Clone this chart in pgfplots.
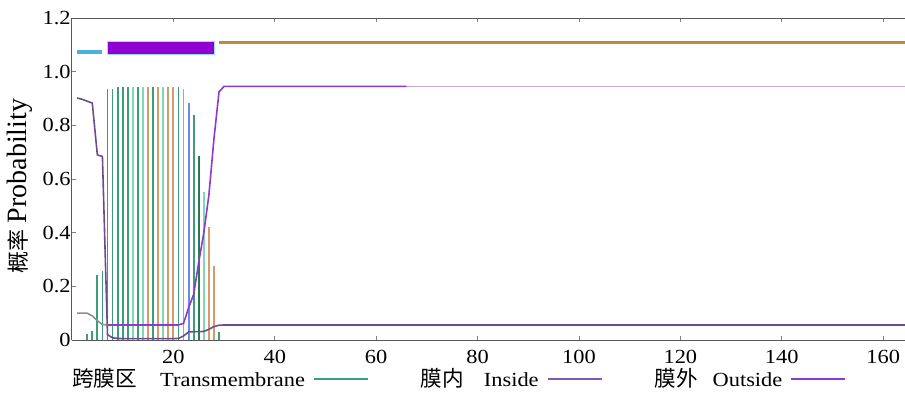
\documentclass[border=0pt]{standalone}
\usepackage{fontspec}
\setmainfont{Liberation Serif}[FakeStretch=1.12]
\newfontfamily\plainserif{Liberation Serif}
\newfontfamily\cjk{Noto Sans CJK SC}[Scale=1.08]
\newfontfamily\cjkplain{Noto Sans CJK SC}
\usepackage{pgfplots}
\pgfplotsset{compat=1.18}
\definecolor{tmgreen}{HTML}{3A9E78}
\definecolor{tmdark}{HTML}{2A7A50}
\definecolor{tmmint}{HTML}{80D8B0}
\definecolor{tmorange}{HTML}{D89A6A}
\definecolor{tmblue}{HTML}{6A8AE8}
\definecolor{incol}{HTML}{6E4A8E}
\definecolor{inleg}{HTML}{7A5CB8}
\definecolor{outcol}{HTML}{8E3AD0}
\definecolor{outlight}{HTML}{C4ACD8}
\definecolor{outgray}{HTML}{8A9090}
\definecolor{barblue}{HTML}{4AB0E0}
\definecolor{barpurple}{HTML}{9000D0}
\definecolor{barorange}{HTML}{C8883A}
\definecolor{bargreen}{HTML}{5AAA70}
\begin{document}
\begin{tikzpicture}
\begin{axis}[
  at={(0,0)}, anchor=south west,
  scale only axis, width=416.5pt, height=161pt,
  xmin=0, xmax=164.3, ymin=0, ymax=1.2,
  axis x line*=box, axis y line*=left,
  axis line style={black!65, line width=0.5pt},
  xtick={20,40,60,80,100,120,140,160},
  xticklabels={20,40,60,80,100,120,140,160},
  ytick={0,0.2,0.4,0.6,0.8,1.0,1.2},
  yticklabels={0,0.2,0.4,0.6,0.8,1.0,1.2},
  /pgf/number format/assume math mode=true,
  tick align=inside, major tick length=2pt,
  tick style={black!50, line width=0.4pt},
  ticklabel style={font=\fontsize{10}{12}\selectfont},
  xticklabel style={yshift=-1.5pt},
  yticklabel style={inner xsep=0.5pt},
  ylabel={{\cjkplain\fontsize{11}{13}\selectfont 概率}\hspace{3pt}Probability},
  ylabel style={at={(axis description cs:-0.0624,0.478)}, anchor=center, inner sep=0pt,
    font=\plainserif\fontsize{14}{16}\selectfont},
  legend columns=3, legend plot pos=right,
  legend style={draw=none, fill=none, at={(axis description cs:0,-0.12)}, anchor=west,
    inner sep=0pt, nodes={inner xsep=0pt, inner ysep=1pt},
    font=\fontsize{10}{12}\selectfont,
    /tikz/every odd column/.append style={column sep=4pt},
    /tikz/every even column/.append style={column sep=26pt}},
  legend image code/.code={\draw[#1, line width=0.9pt] (0pt,0pt) -- (27pt,0pt);},
]
% top topology bars
\addplot[forget plot, barblue, line width=2pt] coordinates {(1,1.072)(6,1.072)};
\addplot[forget plot, fill=barpurple, draw=cyan!40, line width=0.4pt] coordinates {(7,1.066)(28,1.066)(28,1.112)(7,1.112)} -- cycle;
\addplot[forget plot, barorange, line width=1pt] coordinates {(29,1.106)(166,1.106)};
\addplot[forget plot, bargreen, line width=0.8pt] coordinates {(29,1.1125)(166,1.1125)};
% transmembrane probability spikes
\addplot[forget plot, ycomb, tmgreen, line width=0.9pt] coordinates {
(3,0.021)(4,0.034)(5,0.243)(6,0.258)(7,0.934)(8,0.936)(9,0.943)(10,0.943)(11,0.943)(13,0.943)(16,0.943)(21,0.943)(24,0.838)(29,0.031)};
\addplot[forget plot, ycomb, tmdark, line width=0.9pt] coordinates {(25,0.686)};
\addplot[forget plot, ycomb, tmmint, line width=0.9pt] coordinates {(12,0.943)(14,0.943)(18,0.943)(26,0.553)};
\addplot[forget plot, ycomb, tmorange, line width=0.9pt] coordinates {(15,0.943)(17,0.943)(19,0.943)(20,0.943)(22,0.935)(27,0.42)(28,0.276)};
\addplot[forget plot, ycomb, tmblue, line width=0.9pt] coordinates {(23,0.882)};
% inside probability
\addplot[forget plot, incol, line width=0.8pt] coordinates {
(1,0.902)(2,0.897)(3,0.89)(4,0.883)(5,0.69)(6,0.684)(7,0.02)(8,0.008)(9,0.006)(10,0.005)(15,0.005)(20,0.005)(21,0.006)(22,0.015)(23,0.03)(24,0.031)(25,0.031)(26,0.032)(27,0.04)(28,0.05)(29,0.055)(30,0.056)(100,0.056)(166,0.056)};
% outside probability
\addplot[forget plot, outgray, line width=0.8pt] coordinates {(1,0.1)(2,0.1)(3,0.1)(4,0.09)(5,0.072)(6,0.058)(7,0.056)};
\addplot[forget plot, outcol, line width=0.8pt] coordinates {
(7,0.056)(10,0.056)(15,0.056)(21,0.056)(22,0.062)(23,0.12)(24,0.17)(25,0.29)(26,0.40)(27,0.54)(28,0.75)(29,0.925)(30,0.945)(66,0.945)};
\addplot[forget plot, outlight, line width=0.8pt] coordinates {(66,0.945)(166,0.945)};
% legend
\addlegendimage{tmgreen}
\addlegendentry{{\cjk 跨膜区}\hspace{11.5pt}Transmembrane}
\addlegendimage{inleg}
\addlegendentry{{\cjk 膜内}\hspace{10pt}Inside}
\addlegendimage{outcol}
\addlegendentry{{\cjk 膜外}\hspace{7.5pt}Outside}
\end{axis}
\pgfresetboundingbox
\path (-36pt,-26pt) rectangle (416.5pt,170pt);
\end{tikzpicture}
\end{document}
